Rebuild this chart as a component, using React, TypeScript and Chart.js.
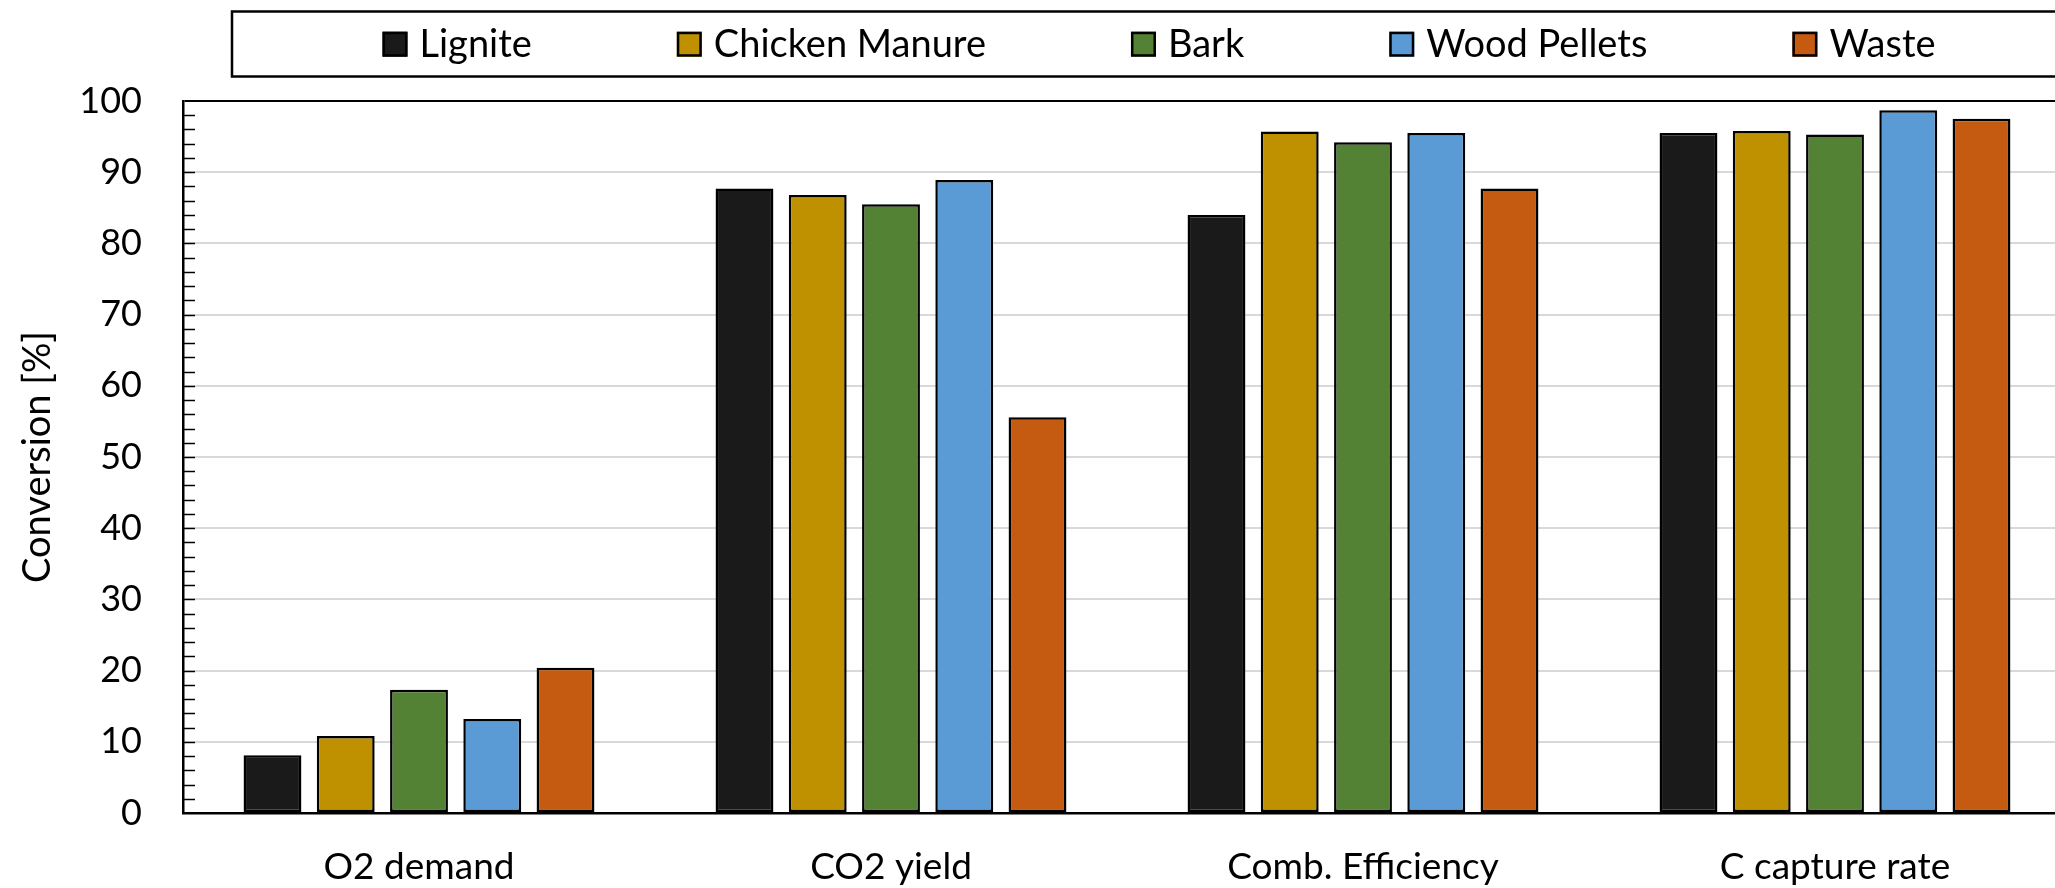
import React, { useEffect, useRef } from 'react';
import { Chart, registerables } from 'chart.js';

Chart.register(...registerables);

// ---- Data ----
const categories = ['O2 demand', 'CO2 yield', 'Comb. Efficiency', 'C capture rate'];
const seriesNames = ['Lignite', 'Chicken Manure', 'Bark', 'Wood Pellets', 'Waste'];
const seriesColors = ['#1a1a1a', '#bf9000', '#548235', '#5b9bd5', '#c55a11'];
const lignite = [8.1, 87.7, 84.0, 95.5];
const chickenManure = [10.8, 86.8, 95.7, 95.8];
const bark = [17.3, 85.5, 94.2, 95.3];
const woodPellets = [13.2, 88.9, 95.5, 98.7];
const waste = [20.4, 55.6, 87.7, 97.5];
const seriesValues = [lignite, chickenManure, bark, woodPellets, waste];
const yMin = 0;
const yMax = 100;
const yMajorStep = 10;
const yMinorStep = 2;
const yTitle = 'Conversion [%]';

const FONT = 'Lato';

const boxLegendPlugin = {
  id: 'boxLegend',
  afterDraw(chart: any) {
    const ctx = chart.ctx;
    ctx.save();
    const boxLeft = 232;
    const boxTop = 11.5;
    const boxBottom = 76.5;
    const boxRight = chart.width + 10;
    ctx.lineWidth = 2.5;
    ctx.strokeStyle = '#000';
    ctx.strokeRect(boxLeft, boxTop, boxRight - boxLeft, boxBottom - boxTop);
    ctx.font = `38px ${FONT}`;
    const sw = 25;
    const gapText = 12;
    const gapItem = 145;
    const items = chart.data.datasets.map((ds: any) => ({
      label: ds.label,
      color: ds.backgroundColor,
      w: sw + gapText + ctx.measureText(ds.label).width,
    }));
    const total = items.reduce((a: number, it: any) => a + it.w, 0) + gapItem * (items.length - 1);
    let x = 1159 - total / 2;
    const cy = 44.2;
    items.forEach((it: any) => {
      ctx.fillStyle = it.color;
      ctx.fillRect(x, cy - sw / 2, sw, sw);
      ctx.lineWidth = 2.5;
      ctx.strokeStyle = '#000';
      ctx.strokeRect(x + 1.25, cy - sw / 2 + 1.25, sw - 2.5, sw - 2.5);
      ctx.fillStyle = '#000';
      ctx.textBaseline = 'alphabetic';
      ctx.textAlign = 'left';
      ctx.fillText(it.label, x + sw + gapText, 56.5);
      x += it.w + gapItem;
    });
    ctx.restore();
  },
};

const innerTicksPlugin = {
  id: 'innerTicks',
  afterDraw(chart: any) {
    const s = chart.scales.y;
    const ctx = chart.ctx;
    ctx.save();
    ctx.strokeStyle = '#000';
    ctx.lineWidth = 1.5;
    s.ticks.forEach((t: any) => {
      if (t.value === yMin || t.value === yMax) return;
      const y = Math.round(s.getPixelForValue(t.value)) + 0.5;
      ctx.beginPath();
      ctx.moveTo(s.right, y);
      ctx.lineTo(s.right + 12, y);
      ctx.stroke();
    });
    ctx.restore();
  },
};

export default function App() {
  const ref = useRef<HTMLCanvasElement>(null);

  useEffect(() => {
    let chart: Chart | null = null;
    let cancelled = false;
    const make = () => {
      if (cancelled || !ref.current) return;
      chart = new Chart(ref.current, {
        type: 'bar',
        data: {
          labels: categories,
          datasets: seriesNames.map((name, i) => ({
            label: name,
            data: seriesValues[i],
            backgroundColor: seriesColors[i],
            borderColor: '#000',
            borderWidth: 2.5,
            borderSkipped: false,
            categoryPercentage: 0.776,
            barPercentage: 0.79,
          })),
        },
        options: {
          animation: false,
          responsive: false,
          devicePixelRatio: 1,
          layout: { padding: { top: 101, left: 0, right: 0, bottom: 0 } },
          plugins: {
            legend: { display: false },
            tooltip: { enabled: false },
          },
          scales: {
            x: {
              grid: { display: false, drawTicks: false },
              border: { display: true, color: '#000', width: 2.5 },
              ticks: {
                color: '#000',
                font: { family: FONT, size: 37 },
                padding: 32,
                maxRotation: 0,
                autoSkip: false,
              },
              afterFit: (s: any) => {
                s.height = 75;
              },
            },
            y: {
              min: yMin,
              max: yMax,
              border: { display: true, color: '#000', width: 2.5 },
              grid: {
                drawTicks: false,
                lineWidth: 2,
                color: (c: any) => {
                  const v = c.tick ? c.tick.value : 0;
                  if (v === yMax) return '#000';
                  if (v === yMin) return 'rgba(0,0,0,0)';
                  return v % yMajorStep === 0 ? '#d9d9d9' : 'rgba(0,0,0,0)';
                },
              },
              ticks: {
                stepSize: yMinorStep,
                maxTicksLimit: 200,
                autoSkip: false,
                color: '#000',
                padding: 41,
                font: { family: FONT, size: 36 },
                callback: (v: any) => (Number(v) % yMajorStep === 0 ? String(v) : ''),
              },
              title: {
                display: true,
                text: yTitle,
                color: '#000',
                font: { family: FONT, size: 38 },
                padding: { top: 15, bottom: 0 },
              },
              afterFit: (s: any) => {
                s.width = 183;
              },
            },
          },
        },
        plugins: [boxLegendPlugin, innerTicksPlugin],
      });
    };
    const fontsReady = (document as any).fonts
      ? Promise.all([
          (document as any).fonts.load(`38px ${FONT}`),
          (document as any).fonts.load(`36px ${FONT}`),
        ]).catch(() => null)
      : Promise.resolve(null);
    fontsReady.then(make);
    return () => {
      cancelled = true;
      if (chart) chart.destroy();
    };
  }, []);

  return (
    <div
      style={{
        position: 'fixed',
        left: 0,
        top: 0,
        width: 2055,
        height: 888,
        overflow: 'hidden',
        background: '#fff',
      }}
    >
      <canvas ref={ref} width={2071} height={888} style={{ display: 'block' }} />
    </div>
  );
}
